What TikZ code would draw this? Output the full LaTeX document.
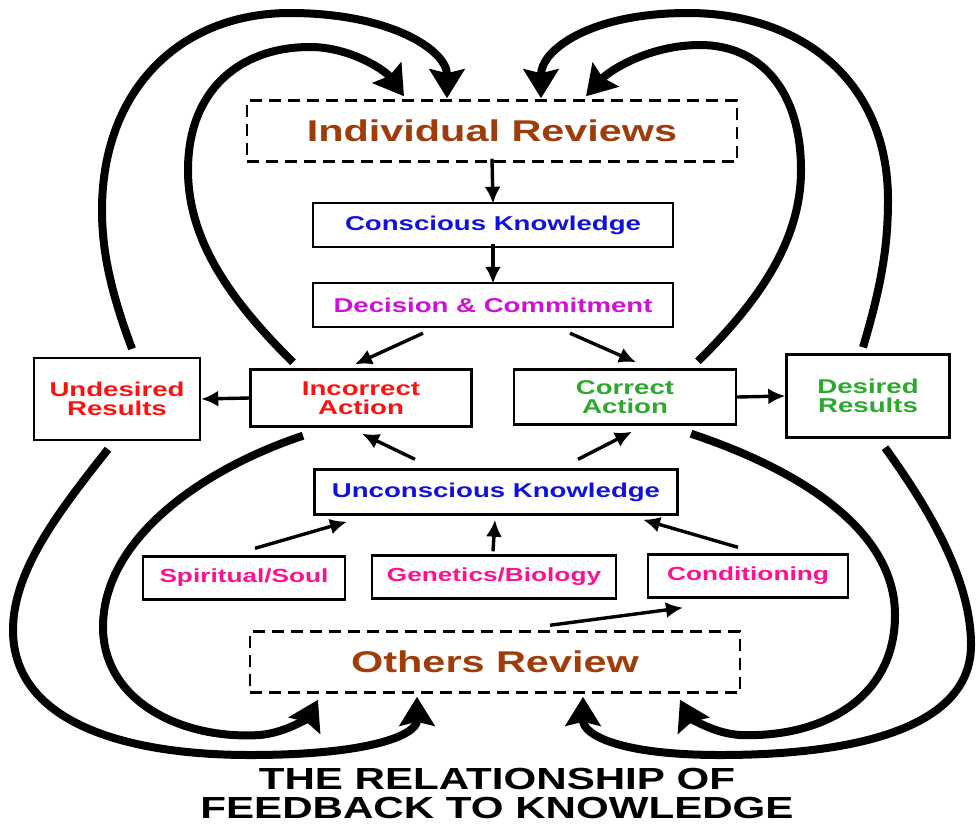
\documentclass[tikz,border=0pt]{standalone}
\usepackage{fontspec}
\newfontfamily\diagfont[FakeStretch=1.38]{Liberation Sans}
\usetikzlibrary{arrows.meta,positioning}
\definecolor{RevBrown}{HTML}{A03C0A}
\definecolor{KnowBlue}{HTML}{1010E0}
\definecolor{DecMagenta}{HTML}{D010D8}
\definecolor{BadRed}{HTML}{FF1010}
\definecolor{GoodGreen}{HTML}{2CA82C}
\definecolor{SourcePink}{HTML}{FF1090}
\tikzset{
  reviewbox/.style={draw, dashed, dash pattern=on 12pt off 7pt, line width=2.5pt,
                    minimum width=490pt, minimum height=61pt, inner sep=0pt,
                    font=\diagfont\bfseries\fontsize{30}{32}\selectfont, text=RevBrown},
  stepbox/.style={draw, line width=2.4pt, minimum height=44pt, inner sep=0pt,
                  align=center, font=\diagfont\bfseries\fontsize{20}{18.5}\selectfont},
  srcbox/.style={stepbox, minimum height=43pt, text=SourcePink,
                 font=\diagfont\bfseries\fontsize{19}{20}\selectfont},
  arrow/.style={-{Latex[length=17pt,width=16pt]}, line width=3.4pt},
  loopfb/.style={-{Stealth[length=29pt,width=35pt,inset=4pt]}, line width=8pt},
  figtitle/.style={font=\diagfont\bfseries\fontsize{30.5}{29}\selectfont, align=center,
                   inner sep=0pt},
}
\begin{document}
\begin{tikzpicture}[x=1pt, y=-1pt]
  \useasboundingbox (0,0) rectangle (976,825);

  \node[reviewbox] (ir) at (492,131) {Individual Reviews};
  \node[stepbox, minimum width=360pt, text=KnowBlue] (ck) at (493,225) {Conscious Knowledge};
  \node[stepbox, minimum width=360pt, text=DecMagenta] (dc) at (493,305) {Decision \& Commitment};
  \node[stepbox, minimum width=166pt, minimum height=82pt, text=BadRed] (ur) at (117,399) {Undesired\\Results};
  \node[stepbox, minimum width=221pt, minimum height=57pt, text=BadRed] (ia) at (361,398) {Incorrect\\Action};
  \node[stepbox, minimum width=222pt, minimum height=55pt, text=GoodGreen] (ca) at (625,397) {Correct\\Action};
  \node[stepbox, minimum width=163pt, minimum height=83pt, text=GoodGreen] (dr) at (868,396) {Desired\\Results};
  \node[stepbox, minimum width=363pt, minimum height=45pt, text=KnowBlue] (uk) at (496,492) {Unconscious Knowledge};
  \node[srcbox, minimum width=202pt] (ss) at (244,578) {Spiritual/Soul};
  \node[srcbox, minimum width=244pt] (gb) at (494,577) {Genetics/Biology};
  \node[srcbox, minimum width=200pt] (co) at (748,576) {Conditioning};
  \node[reviewbox] (orv) at (495,662) {Others Review};
  \node[figtitle] (title) at (497,793) {THE RELATIONSHIP OF\\FEEDBACK TO KNOWLEDGE};

  % main chain
  \draw[arrow] ([yshift=4]ir.south) -- ([yshift=-2]ck.north);
  \draw[arrow] ([yshift=4]ck.south) -- ([yshift=-2]dc.north);
  \draw[arrow] ([shift={(-70,5)}]dc.south) -- ([shift={(-6,-4)}]ia.north);
  \draw[arrow] ([shift={(77,5)}]dc.south) -- ([shift={(11,-6)}]ca.north);
  \draw[arrow] (ia.west) -- (ur.east);
  \draw[arrow] (ca.east) -- (dr.west);
  \draw[arrow] ([shift={(-81,-9)}]uk.north) -- ([shift={(1,6)}]ia.south);
  \draw[arrow] ([shift={(82,-9)}]uk.north) -- ([shift={(7,6)}]ca.south);
  \draw[arrow] ([shift={(11,-7)}]ss.north) -- ([shift={(-149,6)}]uk.south);
  \draw[arrow] ([shift={(-1,-3)}]gb.north) -- ([shift={(-1,4)}]uk.south);
  \draw[arrow] ([shift={(-10,-6)}]co.north) -- ([shift={(147,4)}]uk.south);
  \draw[arrow] ([shift={(55,-5)}]orv.north) -- ([shift={(-65,9)}]co.south);

  % feedback loops to individual reviews
  \draw[loopfb] ([shift={(15,-8)}]ur.north) .. controls (110,290) and (102,250) .. (102,210)
    .. controls (102,90) and (180,13) .. (290,13) .. controls (390,13) and (447,50) .. ([shift={(-45,-1)}]ir.north);
  \draw[loopfb] ([shift={(-68,-6)}]ia.north) .. controls (230,300) and (188,240) .. (188,170)
    .. controls (188,90) and (240,47) .. (310,47) .. controls (350,47) and (385,70) .. ([shift={(-88,-3)}]ir.north);
  \draw[loopfb] ([shift={(73,-7)}]ca.north) .. controls (760,300) and (801,240) .. (801,170)
    .. controls (801,90) and (760,45) .. (700,45) .. controls (650,45) and (610,70) .. ([shift={(94,-3)}]ir.north);
  \draw[loopfb] ([shift={(-5,-6)}]dr.north) .. controls (880,290) and (888,250) .. (888,200)
    .. controls (888,80) and (800,13) .. (688,13) .. controls (590,13) and (541,50) .. ([shift={(49,-1)}]ir.north);

  % feedback loops to others review
  \draw[loopfb] ([shift={(-9,8)}]ur.south) .. controls (60,510) and (13,570) .. (13,630)
    .. controls (13,720) and (120,755) .. (250,755) .. controls (370,755) and (417,735) .. ([shift={(-78,3)}]orv.south);
  \draw[loopfb] ([shift={(-58,8)}]ia.south) .. controls (200,470) and (103,540) .. (103,627)
    .. controls (103,700) and (180,740) .. (260,735) .. controls (290,732) and (310,715) .. ([shift={(-177,6)}]orv.south);
  \draw[loopfb] ([shift={(66,8)}]ca.south) .. controls (800,470) and (895,530) .. (895,615)
    .. controls (895,700) and (820,738) .. (740,735) .. controls (710,733) and (688,715) .. ([shift={(185,6)}]orv.south);
  \draw[loopfb] ([shift={(17,9)}]dr.south) .. controls (930,510) and (971,580) .. (971,645)
    .. controls (971,730) and (850,755) .. (720,755) .. controls (620,755) and (583,735) .. ([shift={(88,3)}]orv.south);
\end{tikzpicture}
\end{document}
